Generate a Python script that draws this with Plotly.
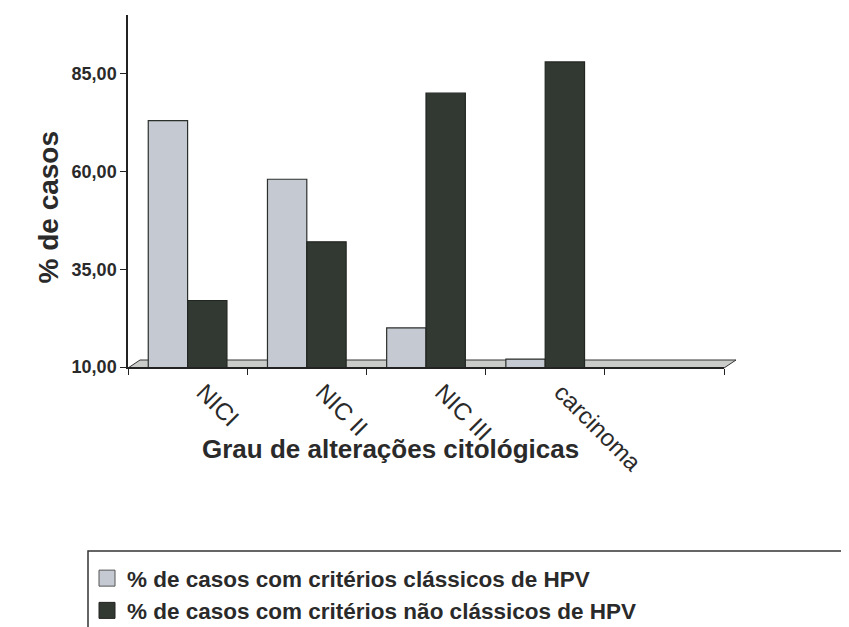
import plotly.graph_objects as go

categories = ["NICI", "NIC II", "NIC III", "carcinoma", " "]
classicos = [73, 58, 20, 12, None]
nao_classicos = [27, 42, 80, 88, None]
y_ticks = [10, 35, 60, 85]
name_classicos = "% de casos com critérios clássicos de HPV"
name_nao = "% de casos com critérios não clássicos de HPV"

# page offset from default body margin
OFF = 8
W, H = 849 - OFF, 627 - OFF
# plot area in page pixels
PX0, PX1, PY0, PY1 = 128, 724, 15, 367
L, R, T, B = PX0 - OFF, W - (PX1 - OFF), PY0 - OFF, H - (PY1 - OFF)
pw, ph = W - L - R, H - T - B

def px(x):  # page x -> paper
    return (x - OFF - L) / pw

def py(y):  # page y -> paper
    return (H - B - (y - OFF)) / ph

font = "Liberation Sans, Arial, sans-serif"
c_light, c_dark = "#c5c9d1", "#323832"

fig = go.Figure()
fig.add_bar(x=categories, y=classicos, name=name_classicos, showlegend=False,
            marker=dict(color=c_light, line=dict(color="#2b2f2b", width=1.2)))
fig.add_bar(x=categories, y=nao_classicos, name=name_nao, showlegend=False,
            marker=dict(color=c_dark, line=dict(color="#222622", width=1.2)))
# legend entries (larger square swatches)
fig.add_scatter(x=[None], y=[None], mode="markers", name=name_classicos,
                marker=dict(symbol="square", size=16, color=c_light, line=dict(color="#555", width=1)))
fig.add_scatter(x=[None], y=[None], mode="markers", name=name_nao,
                marker=dict(symbol="square", size=16, color=c_dark, line=dict(color="#222", width=1)))

fig.update_layout(
    width=W, height=H,
    margin=dict(l=L, r=R, t=T, b=B, autoexpand=False),
    paper_bgcolor="white", plot_bgcolor="white",
    separators=",.",
    barmode="group", bargap=0.34, bargroupgap=0.0,
    font=dict(family=font, color="#2a2a2a"),
    showlegend=True,
    legend=dict(x=px(87), y=py(557), xanchor="left", yanchor="top",
                font=dict(size=22.5, family=font, color="#2a2a2a", weight="bold"),
                itemwidth=30, tracegroupgap=0, bgcolor="rgba(0,0,0,0)"),
    xaxis=dict(categoryorder="array", categoryarray=categories,
               showline=True, linecolor="#222", linewidth=1.5,
               ticks="outside", ticklen=6, tickcolor="#222", tickson="boundaries",
               tickangle=45, showgrid=False, ticklabelstandoff=0, ticklabelshift=16,
               tickfont=dict(size=24, family=font, color="#2a2a2a")),
    yaxis=dict(range=[10, 100], tickvals=y_ticks, tickformat=".2f",
               showline=True, linecolor="#222", linewidth=1.5,
               ticks="outside", ticklen=6, tickcolor="#222", showgrid=False, zeroline=False,
               tickfont=dict(size=18, family=font, color="#2a2a2a", weight="bold")),
)

# axis titles as annotations
fig.add_annotation(text="Grau de alterações citológicas", xref="paper", yref="paper",
                   x=px(390), y=py(466), showarrow=False,
                   font=dict(size=26, family=font, color="#2a2a2a", weight="bold"))
fig.add_annotation(text="% de casos", xref="paper", yref="paper",
                   x=px(30), y=py(207), showarrow=False, textangle=-90,
                   font=dict(size=28, family=font, color="#2a2a2a", weight="bold"))

# floor strip
fig.add_shape(type="path", xref="paper", yref="paper",
              path=f"M {px(128)} {py(368)} L {px(724)} {py(368)} L {px(736)} {py(360)} L {px(140)} {py(360)} Z",
              fillcolor="#c9ccc9", line=dict(color="#333", width=1), layer="below")

# legend frame (extends off page)
fig.add_shape(type="rect", xref="paper", yref="paper",
              x0=px(88), x1=px(1000), y0=py(551), y1=py(800),
              line=dict(color="#333", width=1.5), fillcolor="rgba(0,0,0,0)")

fig.write_html("out.html")
